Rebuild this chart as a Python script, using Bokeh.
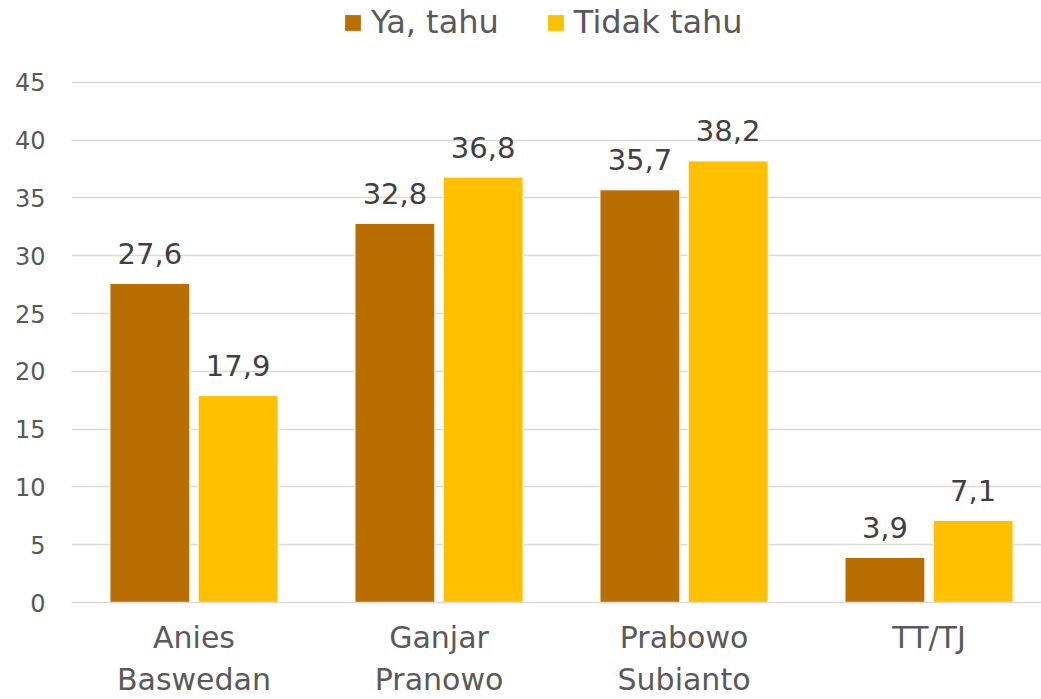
from bokeh.plotting import figure
from bokeh.models import ColumnDataSource, Range1d, FixedTicker, Legend, LegendItem
from bokeh.embed import file_html
from bokeh.resources import INLINE
from bokeh.core.properties import value

categories = ["Anies\nBaswedan", "Ganjar\nPranowo", "Prabowo\nSubianto", "TT/TJ"]
ya_tahu = [27.6, 32.8, 35.7, 3.9]
tidak_tahu = [17.9, 36.8, 38.2, 7.1]
series_names = ["Ya, tahu", "Tidak tahu"]
y_ticks = [0, 5, 10, 15, 20, 25, 30, 35, 40, 45]

FONT = "DejaVu Sans"
C_YA = "#B86E00"
C_TIDAK = "#FFC000"

xs = list(range(len(categories)))

def fmt(v):
    return f"{v:.1f}".replace(".", ",")

src_ya = ColumnDataSource(dict(x=[i - 0.18 for i in xs], top=ya_tahu, lab=[fmt(v) for v in ya_tahu]))
src_td = ColumnDataSource(dict(x=[i + 0.18 for i in xs], top=tidak_tahu, lab=[fmt(v) for v in tidak_tahu]))

p = figure(width=1041, height=699, output_backend="svg", toolbar_location=None,
           x_range=Range1d(-0.5, 3.459), y_range=Range1d(0, 52.08),
           min_border_left=71, min_border_right=0, min_border_top=0, min_border_bottom=96)
p.outline_line_color = None
p.background_fill_color = "white"
p.border_fill_color = "white"

r1 = p.vbar(x="x", top="top", width=0.326, source=src_ya, fill_color=C_YA, line_color="white", line_width=1)
r2 = p.vbar(x="x", top="top", width=0.326, source=src_td, fill_color=C_TIDAK, line_color="white", line_width=1)

for s in (src_ya, src_td):
    p.text(x="x", y="top", text="lab", source=s, text_align="center", text_baseline="alphabetic",
           y_offset=-30, text_font=value(FONT), text_font_size="29px", text_color="#404040")

p.xgrid.grid_line_color = None
p.ygrid.grid_line_color = "#D9D9D9"
p.ygrid.grid_line_width = 1.5
p.yaxis.ticker = FixedTicker(ticks=y_ticks)
p.yaxis.axis_line_color = None
p.yaxis.major_tick_line_color = None
p.yaxis.minor_tick_line_color = None
p.yaxis.major_tick_out = 0
p.yaxis.major_tick_in = 0
p.yaxis.minor_tick_out = 0
p.yaxis.major_label_standoff = 26
p.yaxis.major_label_text_font = FONT
p.yaxis.major_label_text_font_size = "24px"
p.yaxis.major_label_text_color = "#595959"

p.xaxis.ticker = FixedTicker(ticks=xs)
p.xaxis.major_label_overrides = {i: c for i, c in zip(xs, categories)}
p.xaxis.axis_line_color = "#D9D9D9"
p.xaxis.axis_line_width = 1.5
p.xaxis.major_tick_line_color = None
p.xaxis.minor_tick_line_color = None
p.xaxis.major_tick_out = 0
p.xaxis.major_tick_in = 0
p.xaxis.minor_tick_out = 0
p.xaxis.major_label_standoff = 17
p.xaxis.major_label_text_font = FONT
p.xaxis.major_label_text_font_size = "30px"
p.xaxis.major_label_text_color = "#595959"
p.xaxis.major_label_text_line_height = 1.2

legend = Legend(items=[LegendItem(label=series_names[0], renderers=[r1]),
                       LegendItem(label=series_names[1], renderers=[r2])],
                orientation="horizontal", location=(271, 561),
                label_text_font=FONT, label_text_font_size="32px", label_text_color="#595959",
                glyph_width=21, glyph_height=21, label_standoff=8, spacing=46,
                margin=0, padding=0, border_line_color=None, background_fill_alpha=0)
p.add_layout(legend, "center")

open("out.html", "w").write(file_html(p, INLINE))
